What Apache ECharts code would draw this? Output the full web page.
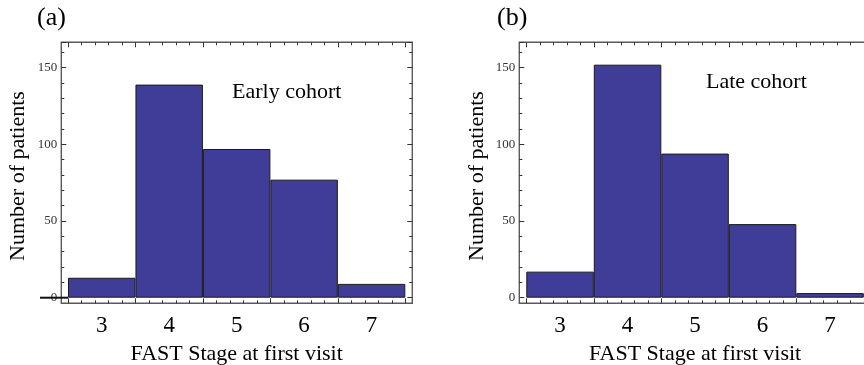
<!DOCTYPE html>
<html>
<head>
<meta charset="utf-8">
<script src="https://cdn.jsdelivr.net/npm/echarts@6/dist/echarts.min.js"></script>
<style>
html,body{margin:0;padding:0;background:#fff;}
#c{width:864px;height:365px;}
</style>
</head>
<body>
<div id="c"></div>
<script>
// ---- data ----
const stages = ['3', '4', '5', '6', '7'];
const earlyCounts = [13, 139, 97, 77, 9];
const lateCounts = [17, 152, 94, 48, 3];
const yMajorStep = 50;
const yMax = 166.6;
const panelLabels = ['(a)', '(b)'];
const cohortLabels = ['Early cohort', 'Late cohort'];
const xTitle = 'FAST Stage at first visit';
const yTitle = 'Number of patients';

const FONT = 'Liberation Serif, Times New Roman, serif';
const BAR = '#3f3d97';
const FRAME = '#5a5a5a';
const TICK = '#333';

const chart = echarts.init(document.getElementById('c'), null, {renderer: 'canvas'});

const option = {
  backgroundColor: '#fff',
  animation: false,
  grid: [],
  xAxis: [],
  yAxis: [],
  series: [],
  graphic: []
};

function gridBox(l, t, w, h, extra) {
  return Object.assign({left: l, top: t, width: w, height: h, show: false,
    containLabel: false, outerBoundsMode: 'none'}, extra || {});
}

function addPanel(p, geom, counts) {
  // grid A: bars, category labels, left value axis
  const gA = option.grid.length;
  option.grid.push(gridBox(geom.left, geom.top, geom.width, geom.height));
  // grid B: same rectangle, tick-only axes (bottom, top, right)
  const gB = option.grid.length;
  option.grid.push(gridBox(geom.left, geom.top, geom.width, geom.height));
  // grid F: frame
  const gF = option.grid.length;
  option.grid.push(gridBox(geom.left - geom.padL, geom.top, geom.width + geom.padL + geom.padR,
    geom.height + geom.padB, {show: true, borderColor: FRAME, borderWidth: 1.4, backgroundColor: 'transparent', z: 5}));

  const catIdx = option.xAxis.length;
  option.xAxis.push({
    type: 'category', gridIndex: gA, data: stages, position: 'bottom', offset: geom.padB,
    axisLine: {show: false, onZero: false}, axisTick: {show: false}, splitLine: {show: false},
    axisLabel: {fontFamily: FONT, fontSize: 23, color: '#000', margin: 11},
    name: xTitle, nameLocation: 'middle', nameGap: 40,
    nameTextStyle: {fontFamily: FONT, fontSize: 22, color: '#000'}
  });
  const tickStyle = {
    axisLine: {show: false, onZero: false}, axisLabel: {show: false}, splitLine: {show: false},
    axisTick: {show: true, inside: true, length: 5, lineStyle: {color: TICK, width: 1}},
    minorTick: {show: true, splitNumber: 5, length: 3, lineStyle: {color: TICK, width: 1}},
    z: 6
  };
  const xTick = Object.assign({type: 'value', gridIndex: gB, min: 0, max: stages.length, interval: 1}, tickStyle);
  const bottomTickIdx = option.xAxis.length;
  option.xAxis.push(Object.assign({}, xTick, {position: 'bottom', offset: geom.padB}));
  const topTickIdx = option.xAxis.length;
  option.xAxis.push(Object.assign({}, xTick, {position: 'top', offset: 0}));
  const frameX = option.xAxis.length;
  option.xAxis.push({type: 'value', gridIndex: gF, show: false, min: 0, max: 1});

  const yIdx = option.yAxis.length;
  option.yAxis.push(Object.assign({}, tickStyle, {
    type: 'value', gridIndex: gA, min: 0, max: yMax, interval: yMajorStep,
    position: 'left', offset: geom.padL,
    axisLabel: {show: true, fontFamily: FONT, fontSize: 13, color: '#333', margin: 4, showMaxLabel: false}
  }));
  const yRight = option.yAxis.length;
  option.yAxis.push(Object.assign({}, tickStyle, {
    type: 'value', gridIndex: gB, min: 0, max: yMax, interval: yMajorStep,
    position: 'right', offset: geom.padR
  }));
  const frameY = option.yAxis.length;
  option.yAxis.push({type: 'value', gridIndex: gF, show: false, min: 0, max: 1});

  option.series.push({
    type: 'bar', xAxisIndex: catIdx, yAxisIndex: yIdx, data: counts,
    barCategoryGap: '0%', barGap: '0%',
    itemStyle: {color: BAR, borderColor: '#1a1a1a', borderWidth: 1},
    z: 2
  });
  // empty helper series so the tick-only axes and the frame axes are bound to a series
  option.series.push({type: 'line', xAxisIndex: bottomTickIdx, yAxisIndex: yRight, data: [], silent: true});
  option.series.push({type: 'line', xAxisIndex: topTickIdx, yAxisIndex: yRight, data: [], silent: true});
  option.series.push({type: 'line', xAxisIndex: frameX, yAxisIndex: frameY, data: [], silent: true});

  option.graphic.push({
    type: 'text', left: geom.labelX, top: 5,
    style: {text: panelLabels[p], font: '26px ' + FONT, fill: '#000'}
  });
  option.graphic.push({
    type: 'text', left: geom.cohortX, top: geom.cohortY,
    style: {text: cohortLabels[p], font: '22px ' + FONT, fill: '#000'}
  });
  option.graphic.push({
    type: 'text', x: geom.yTitleX, y: 176, rotation: Math.PI / 2,
    style: {text: yTitle, font: '22px ' + FONT, fill: '#000', textAlign: 'center', textVerticalAlign: 'middle'}
  });
  return {catIdx, bottomTickIdx, yIdx};
}

const pa = addPanel(0, {left: 68, top: 42.3, width: 337.3, height: 255.4, padL: 6.7, padR: 7, padB: 5.6,
  labelX: 37, cohortX: 232, cohortY: 81, yTitleX: 18}, earlyCounts);
const pb = addPanel(1, {left: 526.3, top: 42.3, width: 337.5, height: 255.4, padL: 7, padR: 7, padB: 5.6,
  labelX: 497, cohortX: 706, cohortY: 71, yTitleX: 477}, lateCounts);

chart.setOption(option);

// short baseline stub at y = 0 left of the first bar in panel (a), as in the original
const y0 = chart.convertToPixel({yAxisIndex: pa.yIdx}, 0);
const x0 = chart.convertToPixel({xAxisIndex: pa.bottomTickIdx}, 0);
chart.setOption({graphic: option.graphic.concat([{
  type: 'line', shape: {x1: x0 - 28, y1: y0, x2: x0, y2: y0},
  style: {stroke: '#111', lineWidth: 2}, z: 10
}])});
</script>
</body>
</html>
